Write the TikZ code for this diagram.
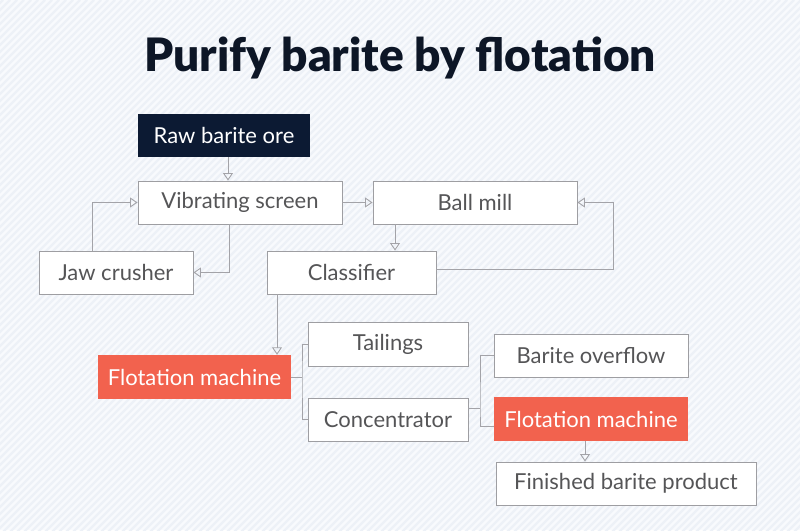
\documentclass[tikz,border=0pt]{standalone}
\usepackage{fontspec}
\setmainfont{Lato}
\IfFontExistsTF{Lato Black}{\newfontfamily\titlefont{Lato Black}}{\newfontfamily\titlefont[FakeBold=1.5]{Lato Bold}}
\usetikzlibrary{arrows.meta}
\definecolor{bgA}{HTML}{F8FAFD}
\definecolor{bgB}{HTML}{EDF1F7}
\definecolor{navy}{HTML}{0C1A33}
\definecolor{titlec}{HTML}{0D1626}
\definecolor{flot}{HTML}{F2624E}
\definecolor{edge}{HTML}{A3A3A8}
\definecolor{boxline}{HTML}{9E9EA2}
\definecolor{txt}{HTML}{555557}
\begin{document}
\begin{tikzpicture}[x=1pt,y=-1pt,
  box/.style={draw=boxline,line width=0.9pt,fill=white,text=txt,inner sep=0pt,
    font=\fontsize{22}{26}\selectfont},
  darkbox/.style={fill=navy,text=white,inner sep=0pt,font=\fontsize{22}{26}\selectfont},
  redbox/.style={fill=flot,text=white,inner sep=0pt,font=\fontsize{22}{26}\selectfont},
  link/.style={draw=edge,line width=0.9pt},
  arr/.style={link,-{Triangle[open,length=7.5pt,width=10pt]}}]
\useasboundingbox (0,0) rectangle (800,530);
\fill[bgA] (0,0) rectangle (800,530);
\begin{scope}
\clip (0,0) rectangle (800,530);
\foreach \k in {-80,...,200} {
  \draw[bgB,line width=2.4pt] (\k*7,535) -- (\k*7+535,0);
}
\end{scope}
\node[text=titlec,font=\titlefont\fontsize{46}{50}\selectfont] (title) at (400,58) {Purify barite by flotation};

\node[darkbox,minimum width=172pt,minimum height=43pt] (raw) at (224,135.5) {Raw barite ore};
\node[box,minimum width=204pt,minimum height=43pt] (vib) at (240,202.5) {Vibrating screen};
\node[box,minimum width=204pt,minimum height=43pt] (ball) at (475,202.5) {Ball mill};
\node[box,minimum width=154pt,minimum height=43pt] (jaw) at (116,272.5) {Jaw crusher};
\node[box,minimum width=169pt,minimum height=43pt] (cls) at (351.5,272.5) {Classifier};
\node[redbox,minimum width=193pt,minimum height=44pt] (flot1) at (194.5,377) {Flotation machine};
\node[box,minimum width=160pt,minimum height=44pt] (tail) at (388,344) {Tailings};
\node[box,minimum width=160pt,minimum height=43pt] (conc) at (388,419.5) {Concentrator};
\node[box,minimum width=194pt,minimum height=43pt] (over) at (591,355.5) {Barite overflow};
\node[redbox,minimum width=194pt,minimum height=44pt] (flot2) at (591,419) {Flotation machine};
\node[box,minimum width=260pt,minimum height=43pt] (fin) at (626,483.5) {Finished barite product};

\coordinate (j1) at (302,377);
\coordinate (j2) at (480,408);

\draw[arr] ([xshift=4pt]raw.south) -- ([xshift=4pt]raw.south |- vib.north);
\draw[arr] (vib.east) -- (ball.west);
\draw[arr] ([xshift=-11pt]vib.south) |- (jaw.east);
\draw[arr] ([xshift=-24pt]jaw.north) |- (vib.west);
\draw[arr] ([xshift=-80pt]ball.south) -- ([xshift=-80pt]ball.south |- cls.north);
\draw[arr] ([yshift=3.5pt]cls.east) -| ([xshift=36pt]ball.east) -- (ball.east);
\draw[arr] ([xshift=-74.5pt]cls.south) -- ([xshift=-74.5pt]cls.south |- flot1.north);
\draw[link] (flot1.east) -- (j1);
\draw[link] (tail.west) -| (j1) |- (conc.west);
\draw[link] ([yshift=11.5pt]conc.east) -- (j2);
\draw[link] (over.west) -| (j2) |- ([yshift=-7pt]flot2.west);
\draw[arr] ([xshift=-6pt]flot2.south) -- ([xshift=-6pt]flot2.south |- fin.north);
\end{tikzpicture}
\end{document}
